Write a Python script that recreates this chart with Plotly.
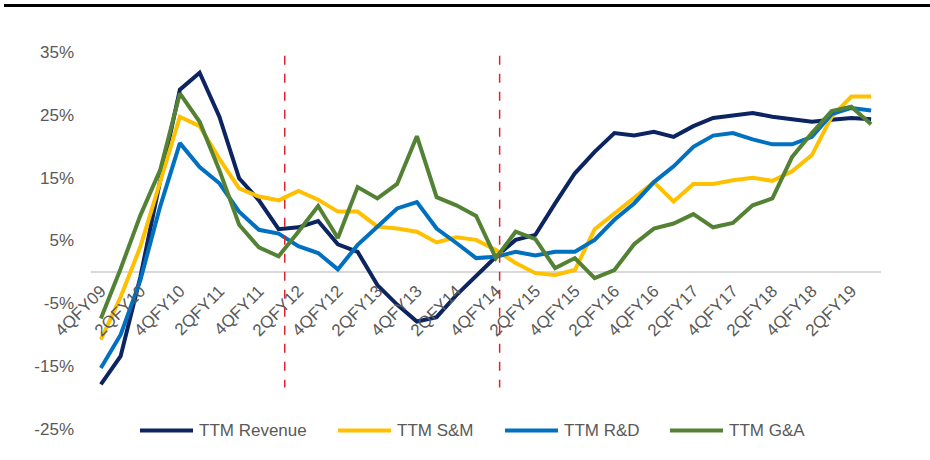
import plotly.graph_objects as go

quarters = ["4QFY09", "1QFY10", "2QFY10", "3QFY10", "4QFY10", "1QFY11", "2QFY11", "3QFY11",
            "4QFY11", "1QFY12", "2QFY12", "3QFY12", "4QFY12", "1QFY13", "2QFY13", "3QFY13",
            "4QFY13", "1QFY14", "2QFY14", "3QFY14", "4QFY14", "1QFY15", "2QFY15", "3QFY15",
            "4QFY15", "1QFY16", "2QFY16", "3QFY16", "4QFY16", "1QFY17", "2QFY17", "3QFY17",
            "4QFY17", "1QFY18", "2QFY18", "3QFY18", "4QFY18", "1QFY19", "2QFY19", "3QFY19"]

revenue = [-17.9, -13.4, -0.8, 14.5, 29.0, 31.7, 24.7, 14.9, 11.4, 6.8,
           7.1, 8.1, 4.4, 3.2, -2.1, -5.2, -7.9, -7.2, -3.7, -0.7,
           2.4, 5.1, 5.9, 10.9, 15.7, 19.1, 22.1, 21.7, 22.3, 21.5,
           23.2, 24.5, 24.9, 25.3, 24.7, 24.3, 23.9, 24.2, 24.5, 24.3]
sm = [-10.8, -4.0, 4.0, 14.6, 24.7, 23.2, 18.0, 13.3, 12.0, 11.4,
      12.9, 11.5, 9.6, 9.6, 7.2, 6.9, 6.4, 4.7, 5.5, 5.1,
      3.5, 1.4, -0.2, -0.5, 0.3, 6.8, 9.3, 12.0, 14.3, 11.2,
      14.0, 14.0, 14.6, 15.0, 14.5, 16.0, 18.6, 24.7, 27.9, 27.9]
rd = [-15.3, -10.0, -1.3, 10.4, 20.5, 16.7, 14.1, 9.6, 6.7, 6.1,
      4.1, 3.0, 0.4, 4.3, 7.2, 10.1, 11.1, 6.9, 4.6, 2.2,
      2.4, 3.2, 2.6, 3.2, 3.2, 5.1, 8.3, 10.9, 14.3, 16.8,
      19.9, 21.7, 22.1, 21.1, 20.3, 20.3, 21.5, 25.1, 26.1, 25.7]
ga = [-7.4, 0.5, 9.0, 16.2, 28.4, 23.9, 16.2, 7.5, 3.9, 2.5,
      6.4, 10.5, 5.4, 13.5, 11.7, 14.0, 21.6, 11.9, 10.6, 8.9,
      2.2, 6.4, 5.2, 0.6, 2.2, -1.0, 0.3, 4.4, 6.9, 7.7,
      9.2, 7.1, 7.8, 10.6, 11.7, 18.3, 22.1, 25.6, 26.3, 23.5]

series_names = ["TTM Revenue", "TTM S&M", "TTM R&D", "TTM G&A"]
series_colors = ["#0C2461", "#FFC000", "#0070C0", "#548235"]
y_ticks = [-25, -15, -5, 5, 15, 25, 35]
y_ticktext = [f"{v}%" for v in y_ticks]
phase_labels = ["before transition", "during transition", "after transition"]
phase_label_x = [0.25, 11.44, 23.18]
transition_x = [9.31, 20.19]

W, H = 930, 460
ML, MR, MT, MB = 91, 49, 51.5, 30.5
PW, PH = W - ML - MR, H - MT - MB

def px_x(p):
    return (p - ML) / PW

def px_y(p):
    return (H - MB - p) / PH

idx = list(range(len(quarters)))
fig = go.Figure()
for name, vals, col in zip(series_names, [revenue, sm, rd, ga], series_colors):
    fig.add_trace(go.Scatter(x=idx, y=vals, mode="lines", name=name,
                             line=dict(color=col, width=4), showlegend=False))

FONT = "Liberation Sans, Arial, sans-serif"
GRAY = "#595959"

shapes = []
for tx in transition_x:
    shapes.append(dict(type="line", xref="x", yref="y", x0=tx, x1=tx, y0=34.4, y1=-18.4,
                       line=dict(color="#D9262C", width=1.5, dash="dash")))
# top rule
shapes.append(dict(type="line", xref="paper", yref="paper", x0=px_x(4), x1=px_x(930),
                   y0=px_y(5), y1=px_y(5), line=dict(color="black", width=3)))

annotations = []
for lab, lx in zip(phase_labels, phase_label_x):
    annotations.append(dict(text=lab, x=lx, y=35.7, xref="x", yref="y", xanchor="left",
                            yanchor="middle", showarrow=False,
                            font=dict(family=FONT, size=17, color="black")))

# legend (manual)
leg_line_x = [140, 338, 505, 670]
for name, col, lx in zip(series_names, series_colors, leg_line_x):
    shapes.append(dict(type="line", xref="paper", yref="paper", x0=px_x(lx), x1=px_x(lx + 53),
                       y0=px_y(431), y1=px_y(431), line=dict(color=col, width=4)))
    annotations.append(dict(text=name, x=px_x(lx + 57), y=px_y(431), xref="paper", yref="paper",
                            xanchor="left", yanchor="middle", showarrow=False,
                            font=dict(family=FONT, size=17, color=GRAY)))

fig.update_layout(
    width=W, height=H, autosize=False,
    margin=dict(l=ML, r=MR, t=MT, b=MB),
    paper_bgcolor="white", plot_bgcolor="white",
    font=dict(family=FONT, size=17, color=GRAY),
    shapes=shapes, annotations=annotations,
    xaxis=dict(range=[-0.5, 39.5], tickmode="array", tickvals=idx[::2],
               ticktext=quarters[::2], tickangle=-45, showgrid=False, zeroline=False,
               showline=False, ticks="", anchor="free", position=25 / 60,
               ticklabelstandoff=5,
               tickfont=dict(family=FONT, size=17, color=GRAY)),
    yaxis=dict(range=[-25, 35], tickmode="array", tickvals=y_ticks, ticktext=y_ticktext,
               showgrid=False, zeroline=True, zerolinecolor="#D9D9D9", zerolinewidth=2,
               showline=False, ticks="", ticklabelstandoff=16,
               tickfont=dict(family=FONT, size=17, color=GRAY)),
)

fig.write_html("out.html", config={"displayModeBar": False},
               post_script="document.body.style.margin='0';document.body.style.overflow='hidden';")
